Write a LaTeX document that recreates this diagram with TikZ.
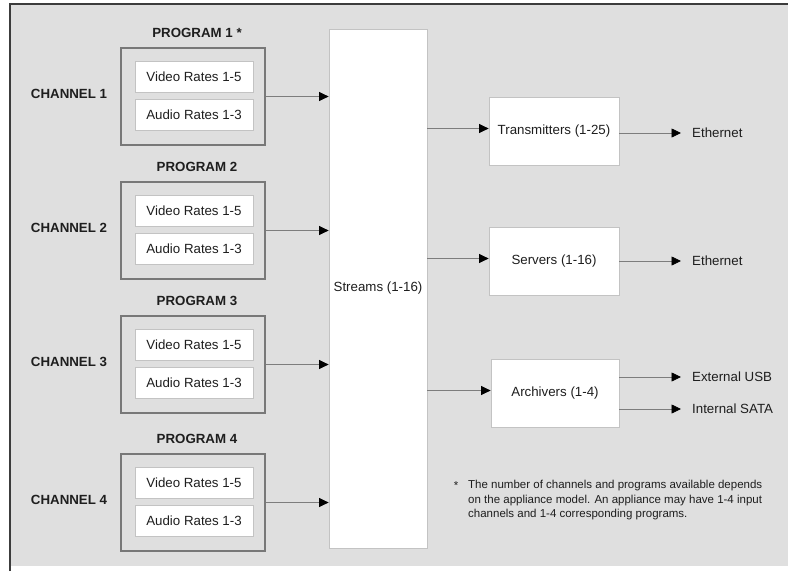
\documentclass[tikz,border=0pt]{standalone}
\usepackage{fontspec}
\setmainfont{Liberation Sans}
\usetikzlibrary{arrows.meta}
\definecolor{bggray}{RGB}{223,223,223}
\definecolor{frameline}{RGB}{60,60,60}
\definecolor{progline}{RGB}{120,120,120}
\definecolor{boxline}{RGB}{195,195,195}
\definecolor{conn}{RGB}{125,125,125}
\definecolor{txt}{RGB}{30,30,30}
\tikzset{
  progbox/.style={draw=progline, line width=1.3pt, fill=bggray, minimum width=144pt, minimum height=97pt, inner sep=0pt},
  ratebox/.style={draw=boxline, line width=0.8pt, fill=white, minimum width=118pt, minimum height=31pt, inner sep=0pt, text=txt, font=\fontsize{13.3}{15}\selectfont},
  lbl/.style={inner sep=0pt, text=txt, font=\fontsize{13.3}{15}\selectfont\bfseries},
  whitebox/.style={draw=boxline, line width=0.8pt, fill=white, inner sep=0pt, text=txt, font=\fontsize{13.3}{15}\selectfont},
  outlbl/.style={inner sep=0pt, anchor=west, text=txt, font=\fontsize{13.3}{15}\selectfont},
  conline/.style={draw=conn, line width=0.8pt, -{Triangle[length=9.5pt,width=9pt,fill=black,color=black]}},
}
\begin{document}
\begin{tikzpicture}[x=1pt,y=-1pt]
\useasboundingbox (0,0) rectangle (788,571);
\fill[white] (0,0) rectangle (788,571);
\fill[bggray] (10,4) rectangle (788,566);
\draw[frameline, line width=1.3pt] (10,571) -- (10,4) -- (788,4);

% streams
\node[whitebox, minimum width=98pt, minimum height=519pt] (st) at (378,288.5) {Streams (1-16)};

% programs
\foreach \i/\top/\star in {1/48/{ *},2/182/{},3/316/{},4/454/{}} {
  \node[progbox] (p\i) at (193,\top+48.5) {};
  \node[ratebox] (v\i) at (194,\top+28.5) {Video Rates 1-5};
  \node[ratebox] (a\i) at (194,\top+66.5) {Audio Rates 1-3};
  \node[lbl] (pl\i) at (197,\top-15) {PROGRAM \i\star};
  \node[lbl] (ch\i) at (69,\top+45.5) {CHANNEL \i};
  \draw[conline] (p\i.east) -- (p\i.east -| st.west);
}

% right boxes
\node[whitebox, minimum width=130pt, minimum height=68pt] (tx) at (554,131) {Transmitters (1-25)};
\node[whitebox, minimum width=130pt, minimum height=68pt] (sv) at (554,261) {Servers (1-16)};
\node[whitebox, minimum width=128pt, minimum height=68pt] (ar) at (555,393) {Archivers (1-4)};

\draw[conline] ([yshift=2.5pt]tx.west -| st.east) -- ([yshift=2.5pt]tx.west);
\draw[conline] ([yshift=2.5pt]sv.west -| st.east) -- ([yshift=2.5pt]sv.west);
\draw[conline] ([yshift=2.5pt]ar.west -| st.east) -- ([yshift=2.5pt]ar.west);

\node[outlbl] (e1) at (692,133) {Ethernet};
\node[outlbl] (e2) at (692,261) {Ethernet};
\node[outlbl] (usb) at (692,377) {External USB};
\node[outlbl] (sata) at (692,409) {Internal SATA};

\draw[conline, shorten >=11pt] (tx.east |- e1.west) -- (e1.west);
\draw[conline, shorten >=11pt] (sv.east |- e2.west) -- (e2.west);
\draw[conline, shorten >=11pt] (ar.east |- usb.west) -- (usb.west);
\draw[conline, shorten >=11pt] (ar.east |- sata.west) -- (sata.west);

% footnote
\node[inner sep=0pt, text=txt, font=\fontsize{11.5}{14.5}\selectfont] (star) at (456,486) {*};
\node[inner sep=0pt, anchor=north west, align=left, text=txt, font=\fontsize{11.5}{14.5}\selectfont] (fn) at (468,480)
  {The number of channels and programs available depends\\on the appliance model. An appliance may have 1-4 input\\channels and 1-4 corresponding programs.};
\end{tikzpicture}
\end{document}
